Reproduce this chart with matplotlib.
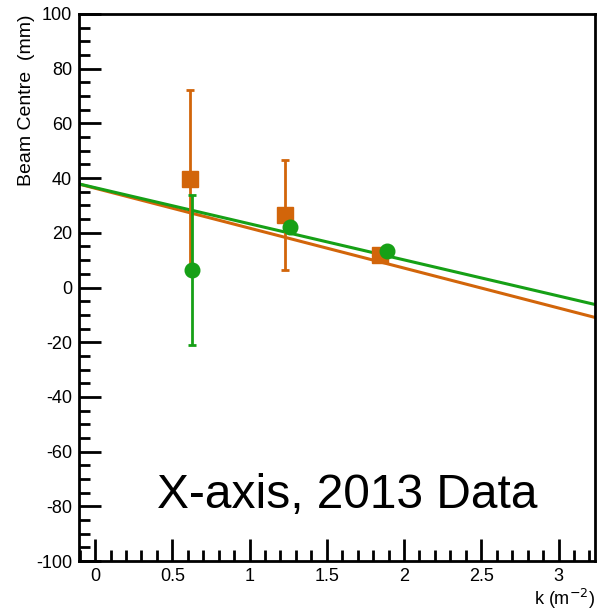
import numpy as np
from matplotlib import pyplot as plt
from matplotlib.ticker import MultipleLocator

plt.rcParams['font.family'] = ['Liberation Sans', 'DejaVu Sans']
plt.rcParams['axes.unicode_minus'] = False

# orange series (squares)
k_orange = [0.615, 1.23, 1.845]
y_orange = [39.7, 26.5, 11.9]
err_orange = [32.5, 20.0, 1.0]
fit_orange = (36.3, -14.6)   # intercept, slope

# green series (circles)
k_green = [0.63, 1.262, 1.89]
y_green = [6.4, 22.0, 13.3]
err_green = [27.4, 1.0, 1.0]
fit_green = (36.5, -13.2)

c_orange = '#d2650a'
c_green = '#16a016'

fig = plt.figure(figsize=(6.08, 6.15), dpi=100)
ax = fig.add_axes([79 / 608, 1 - 561 / 615, (595 - 79) / 608, (561 - 14) / 615])

xlo, xhi = -0.104, 3.236
xs = np.linspace(xlo, xhi, 50)
ax.plot(xs, fit_orange[0] + fit_orange[1] * xs, color=c_orange, lw=2.2, zorder=2)
ax.plot(xs, fit_green[0] + fit_green[1] * xs, color=c_green, lw=2.2, zorder=2)

ax.errorbar(k_orange, y_orange, yerr=err_orange, fmt='s', color=c_orange,
            ms=11, elinewidth=2, capsize=3, capthick=2, zorder=3)
ax.errorbar(k_green, y_green, yerr=err_green, fmt='o', color=c_green,
            ms=10.5, elinewidth=2, capsize=3, capthick=2, zorder=4)

ax.set_xlim(xlo, xhi)
ax.set_ylim(-100, 100)
ax.xaxis.set_major_locator(MultipleLocator(0.5))
ax.xaxis.set_minor_locator(MultipleLocator(0.1))
ax.yaxis.set_major_locator(MultipleLocator(20))
ax.yaxis.set_minor_locator(MultipleLocator(5))
ax.xaxis.set_major_formatter(plt.FuncFormatter(lambda v, p: f'{v:g}'))
ax.tick_params(which='both', direction='in', width=2, labelsize=13)
ax.tick_params(which='major', length=16, pad=5)
ax.tick_params(which='minor', length=8)
for s in ax.spines.values():
    s.set_linewidth(2)

ax.set_ylabel('Beam Centre  (mm)', fontsize=14)
ax.yaxis.set_label_coords(-0.085, 1.0)
ax.yaxis.label.set_ha('right')
ax.set_xlabel('k (m$^{-2}$)', fontsize=13)
ax.xaxis.set_label_coords(1.0, -0.048)
ax.xaxis.label.set_ha('right')

ax.text(0.52, 0.12, 'X-axis, 2013 Data', transform=ax.transAxes,
        fontsize=34.5, ha='center', va='center')

fig.savefig('out.png', dpi=100)
